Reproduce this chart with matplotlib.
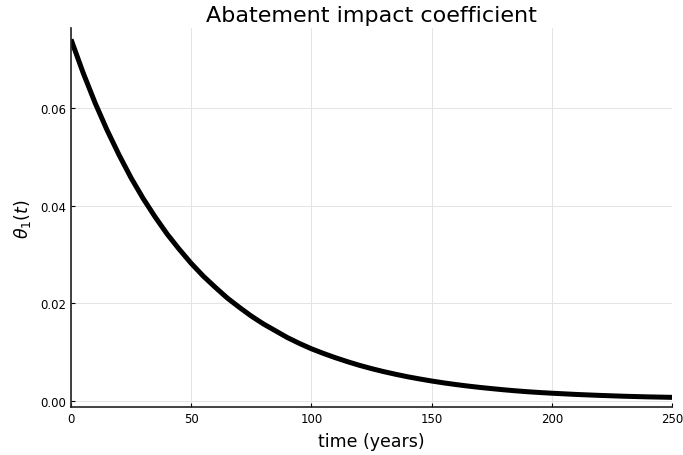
import matplotlib
matplotlib.use("Agg")
import matplotlib.pyplot as plt

# abatement impact coefficient theta_1(t), sampled every 5 years
years = [0, 5, 10, 15, 20, 25, 30, 35, 40, 45, 50, 55, 60, 65, 70, 75, 80,
         85, 90, 95, 100, 105, 110, 115, 120, 125, 130, 135, 140, 145, 150,
         155, 160, 165, 170, 175, 180, 185, 190, 195, 200, 210, 220, 230,
         240, 250]
theta1 = [0.0741, 0.0673, 0.0611, 0.0555, 0.0504, 0.0457, 0.0415, 0.0377,
          0.0342, 0.0311, 0.0282, 0.0256, 0.0233, 0.0211, 0.0192, 0.0174,
          0.0158, 0.0144, 0.0130, 0.0118, 0.0107, 0.00975, 0.00887, 0.00806,
          0.00731, 0.00664, 0.00603, 0.00548, 0.00497, 0.00452, 0.00410,
          0.00372, 0.00338, 0.00307, 0.00279, 0.00254, 0.00230, 0.00209,
          0.00190, 0.00174, 0.00160, 0.00135, 0.00115, 0.00098, 0.00085,
          0.00075]

x_ticks = [0, 50, 100, 150, 200, 250]
y_ticks = [0.00, 0.02, 0.04, 0.06]

fig = plt.figure(figsize=(6.83, 4.56), dpi=100)
ax = fig.add_axes([0.104, 0.105, 0.880, 0.831])

ax.plot(years, theta1, color="black", linewidth=3.6,
        solid_joinstyle="round", solid_capstyle="butt")

ax.set_xlim(0, 250)
ax.set_ylim(-0.00125, 0.0764)
ax.set_xticks(x_ticks)
ax.set_yticks(y_ticks)
ax.set_yticklabels(["%.2f" % v for v in y_ticks])
ax.tick_params(direction="in", length=3, width=0.8, labelsize=8.5, colors="black")
ax.grid(True, color="#e4e4e4", linewidth=0.7)

for side in ("top", "right"):
    ax.spines[side].set_visible(False)
for side in ("left", "bottom"):
    ax.spines[side].set_color("#222222")
    ax.spines[side].set_linewidth(1.2)

ax.set_title("Abatement impact coefficient", fontsize=16, pad=5)
ax.set_xlabel("time (years)", fontsize=12.5, labelpad=5)
ax.set_ylabel(r"$\theta_1(t)$", fontsize=12.5, labelpad=5)

fig.savefig("out.png", dpi=100)
